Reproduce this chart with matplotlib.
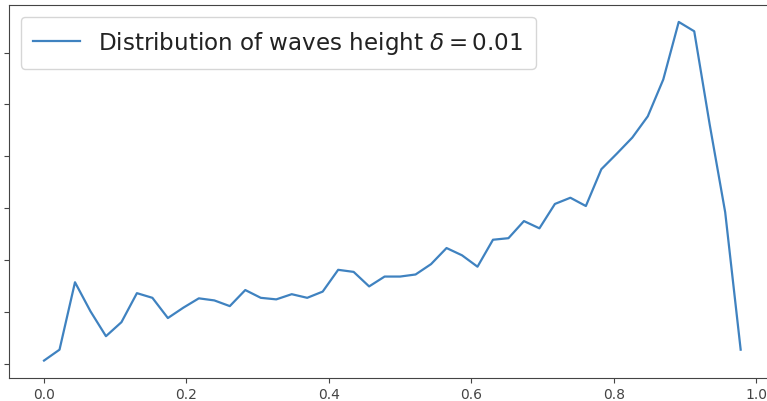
import numpy as np
import matplotlib
matplotlib.use("Agg")
import matplotlib.pyplot as plt

# Bin positions (46 bins of width 1/46)
x_values = [i / 46 for i in range(46)]

# Distribution heights
heights = [0.06, 0.27, 1.57, 1.01, 0.53, 0.80, 1.36, 1.27, 0.88, 1.08,
           1.26, 1.22, 1.11, 1.42, 1.27, 1.24, 1.34, 1.27, 1.39, 1.81,
           1.77, 1.49, 1.68, 1.68, 1.72, 1.92, 2.23, 2.09, 1.87, 2.39,
           2.42, 2.75, 2.61, 3.08, 3.20, 3.04, 3.75, 4.05, 4.36, 4.77,
           5.48, 6.59, 6.41, 4.61, 2.92, 0.27]

x_ticks = [0.0, 0.2, 0.4, 0.6, 0.8, 1.0]
x_tick_labels = ["0.0", "0.2", "0.4", "0.6", "0.8", "1.0"]
y_ticks = [0, 1, 2, 3, 4, 5, 6]

label = r"Distribution of waves height $\delta = 0.01$"

W, H = 767, 402
fig = plt.figure(figsize=(W / 100, H / 100), dpi=100)
left, right, bottom, top = 9.2, 775.5, 378.5, 6.0
ax = fig.add_axes([left / W, (H - bottom) / H, (right - left) / W, (bottom - top) / H])

ax.plot(x_values, heights, color="#3f82c0", linewidth=1.6, label=label)

ax.set_xticks(x_ticks)
ax.set_xticklabels(x_tick_labels, fontsize=10, color="#444444")
ax.set_yticks(y_ticks)
ax.set_yticklabels([])
ax.tick_params(colors="#444444")
for s in ax.spines.values():
    s.set_color("#444444")

leg = ax.legend(loc="upper left", fontsize=16.6, handlelength=2.0,
                borderpad=0.55)
for t in leg.get_texts():
    t.set_color("#222222")

fig.savefig("out.png", dpi=100)
